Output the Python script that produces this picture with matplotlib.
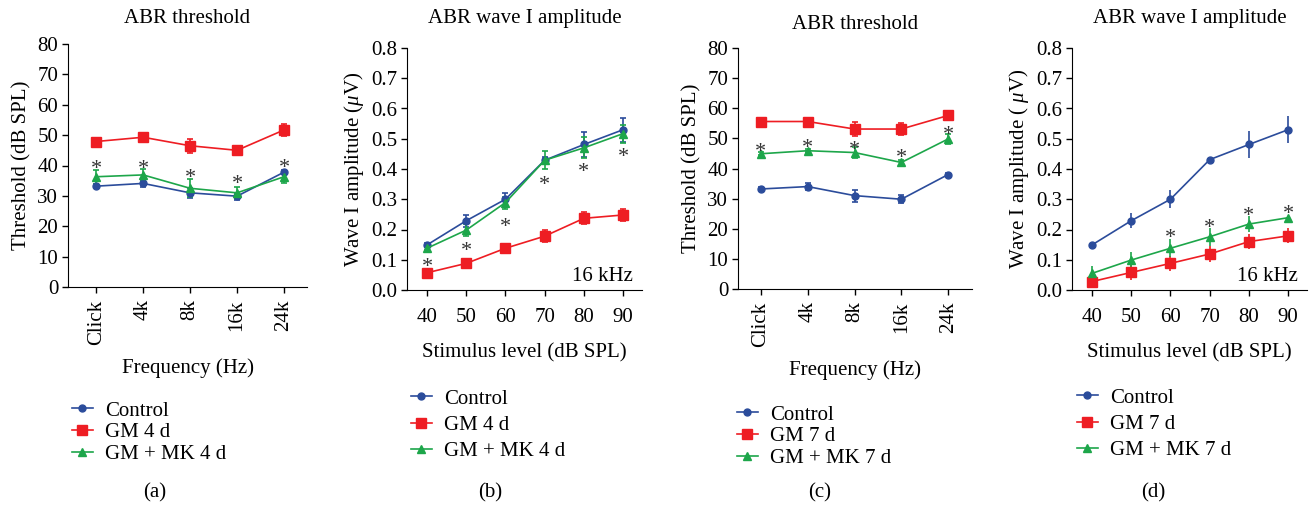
import matplotlib
matplotlib.use('Agg')
import matplotlib.pyplot as plt
from matplotlib.lines import Line2D

plt.rcParams['font.family'] = ['Liberation Serif', 'DejaVu Serif']
plt.rcParams['mathtext.fontset'] = 'custom'
plt.rcParams['mathtext.rm'] = 'Liberation Serif'
plt.rcParams['mathtext.it'] = 'Liberation Serif:italic'
plt.rcParams['font.size'] = 15

#%% data
freqs = ['Click', '4k', '8k', '16k', '24k']
levels = [40, 50, 60, 70, 80, 90]

# (a) threshold, 4 d
a_ctrl = [33.2, 34.1, 31.0, 29.9, 37.8]
a_ctrl_err = [0.6, 1.2, 1.6, 1.1, 0.6]
a_gm = [47.9, 49.3, 46.5, 45.0, 51.7]
a_gm_err = [1.2, 1.5, 2.3, 1.5, 2.0]
a_mk = [36.3, 36.9, 32.5, 31.0, 36.3]
a_mk_err = [2.3, 2.0, 3.0, 2.0, 2.0]
a_star = [41.2, 41.2, 38.0, 36.3, 41.5]

# (b) wave I amplitude, 4 d
b_ctrl = [0.149, 0.229, 0.300, 0.429, 0.481, 0.530]
b_ctrl_err = [0.005, 0.02, 0.02, 0.01, 0.04, 0.04]
b_gm = [0.057, 0.088, 0.138, 0.178, 0.237, 0.248]
b_gm_err = [0.005, 0.005, 0.005, 0.02, 0.02, 0.02]
b_mk = [0.138, 0.198, 0.289, 0.429, 0.470, 0.517]
b_mk_err = [0.005, 0.02, 0.02, 0.03, 0.035, 0.03]
b_star = [0.099, 0.151, 0.231, 0.369, 0.413, 0.462]

# (c) threshold, 7 d
c_ctrl = [33.2, 34.0, 31.0, 29.8, 38.0]
c_ctrl_err = [0.5, 1.2, 2.0, 1.3, 0.5]
c_gm = [55.6, 55.6, 53.1, 53.1, 57.6]
c_gm_err = [0.8, 0.5, 2.3, 2.0, 1.5]
c_mk = [44.9, 45.9, 45.3, 42.0, 49.8]
c_mk_err = [0.5, 0.5, 1.8, 0.8, 1.6]
c_star = [47.9, 49.0, 48.4, 45.7, 53.4]

# (d) wave I amplitude, 7 d
d_ctrl = [0.149, 0.229, 0.300, 0.431, 0.481, 0.530]
d_ctrl_err = [0.005, 0.025, 0.03, 0.005, 0.045, 0.045]
d_gm = [0.028, 0.058, 0.088, 0.119, 0.160, 0.179]
d_gm_err = [0.01, 0.025, 0.025, 0.025, 0.025, 0.025]
d_mk = [0.055, 0.099, 0.138, 0.176, 0.218, 0.239]
d_mk_err = [0.025, 0.025, 0.03, 0.03, 0.025, 0.005]
d_star_x = [60, 70, 80, 90]
d_star = [0.193, 0.228, 0.266, 0.273]

blue = '#2b4c9b'
red = '#ee1d23'
green = '#1da64a'

#%% figure
fig = plt.figure(figsize=(13.16, 5.09), dpi=100)

W, H = 1316., 509.
def box(l, r, t, b):
    return [l / W, 1 - b / H, (r - l) / W, (b - t) / H]

ax_a = fig.add_axes(box(68, 307, 44, 287))
ax_b = fig.add_axes(box(407, 642, 48, 290))
ax_c = fig.add_axes(box(738, 972, 48, 289))
ax_d = fig.add_axes(box(1072, 1307, 48, 290))


def draw(ax, x, ctrl, ce, gm, ge, mk, me, caps=2.5):
    ax.errorbar(x, ctrl, yerr=ce, color=blue, marker='o', ms=5, lw=1.2,
                capsize=caps, elinewidth=1.2, capthick=1.2)
    ax.errorbar(x, gm, yerr=ge, color=red, marker='s', ms=6.5, lw=1.2,
                capsize=caps, elinewidth=1.2, capthick=1.2)
    ax.errorbar(x, mk, yerr=me, color=green, marker='^', ms=5.5, lw=1.2,
                capsize=caps, elinewidth=1.2, capthick=1.2)


def stars(ax, x, y):
    for xi, yi in zip(x, y):
        ax.annotate('*', (xi, yi), xytext=(0, -8.5), textcoords='offset points',
                    ha='center', va='baseline', fontsize=16, color='#333333')


def style(ax, xpad=3):
    for s in ['top', 'right']:
        ax.spines[s].set_visible(False)
    ax.tick_params(direction='out', length=4, width=1, pad=3, labelsize=15)
    ax.tick_params(axis='x', pad=xpad)


pos = list(range(len(freqs)))

# (a)
draw(ax_a, pos, a_ctrl, a_ctrl_err, a_gm, a_gm_err, a_mk, a_mk_err)
stars(ax_a, pos, a_star)
ax_a.set_xlim(-0.6, 4.49)
ax_a.set_ylim(0, 80)
ax_a.set_yticks(range(0, 81, 10))
ax_a.set_xticks(pos)
ax_a.set_xticklabels(freqs, rotation=90)
ax_a.set_ylabel('Threshold (dB SPL)')
ax_a.set_xlabel('Frequency (Hz)', labelpad=10)
ax_a.set_title('ABR threshold', fontsize=15, pad=15)
style(ax_a, xpad=5)

# (b)
draw(ax_b, levels, b_ctrl, b_ctrl_err, b_gm, b_gm_err, b_mk, b_mk_err)
stars(ax_b, levels, b_star)
ax_b.set_xlim(34.9, 94.8)
ax_b.set_ylim(0, 0.8)
ax_b.set_yticks([i / 10 for i in range(9)])
ax_b.set_yticklabels(['%.1f' % (i / 10) for i in range(9)])
ax_b.set_xticks(levels)
ax_b.set_ylabel('Wave I amplitude ($\\mu$V)')
ax_b.set_xlabel('Stimulus level (dB SPL)', labelpad=12)
ax_b.set_title('ABR wave I amplitude', fontsize=15, pad=18)
ax_b.text(0.96, 0.015, '16 kHz', transform=ax_b.transAxes, ha='right', va='bottom')
style(ax_b, xpad=9)

# (c)
draw(ax_c, pos, c_ctrl, c_ctrl_err, c_gm, c_gm_err, c_mk, c_mk_err)
stars(ax_c, pos, c_star)
ax_c.set_xlim(-0.49, 4.51)
ax_c.set_ylim(0, 80)
ax_c.set_yticks(range(0, 81, 10))
ax_c.set_xticks(pos)
ax_c.set_xticklabels(freqs, rotation=90)
ax_c.set_ylabel('Threshold (dB SPL)')
ax_c.set_xlabel('Frequency (Hz)', labelpad=10)
ax_c.set_title('ABR threshold', fontsize=15, pad=14)
style(ax_c, xpad=5)

# (d)
draw(ax_d, levels, d_ctrl, d_ctrl_err, d_gm, d_gm_err, d_mk, d_mk_err, caps=0)
stars(ax_d, d_star_x, d_star)
ax_d.set_xlim(34.9, 94.8)
ax_d.set_ylim(0, 0.8)
ax_d.set_yticks([i / 10 for i in range(9)])
ax_d.set_yticklabels(['%.1f' % (i / 10) for i in range(9)])
ax_d.set_xticks(levels)
ax_d.set_ylabel('Wave I amplitude ( $\\mu$V)')
ax_d.set_xlabel('Stimulus level (dB SPL)', labelpad=12)
ax_d.set_title('ABR wave I amplitude', fontsize=15, pad=18)
ax_d.text(0.96, 0.015, '16 kHz', transform=ax_d.transAxes, ha='right', va='bottom')
style(ax_d, xpad=9)

#%% legends
def handles(day):
    return [Line2D([], [], color=blue, marker='o', ms=5, lw=1.2),
            Line2D([], [], color=red, marker='s', ms=6.5, lw=1.2),
            Line2D([], [], color=green, marker='^', ms=5.5, lw=1.2)], \
           ['Control', 'GM %s d' % day, 'GM + MK %s d' % day]

for x0, y0, day, sp in [(72, 401, 4, 0.1), (411, 389, 4, 0.32),
                         (737, 405, 7, 0.1), (1077, 388, 7, 0.32)]:
    h, l = handles(day)
    fig.legend(h, l, loc='upper left', bbox_to_anchor=(x0 / W, 1 - y0 / H),
               frameon=False, borderpad=0, borderaxespad=0, handlelength=1.0,
               handletextpad=0.6, labelspacing=sp, fontsize=15)

for x0, lab in [(155, '(a)'), (490, '(b)'), (820, '(c)'), (1153, '(d)')]:
    fig.text(x0 / W, 1 - 493 / H, lab, ha='center', va='center', fontsize=15)

fig.savefig('out.png', dpi=100)
